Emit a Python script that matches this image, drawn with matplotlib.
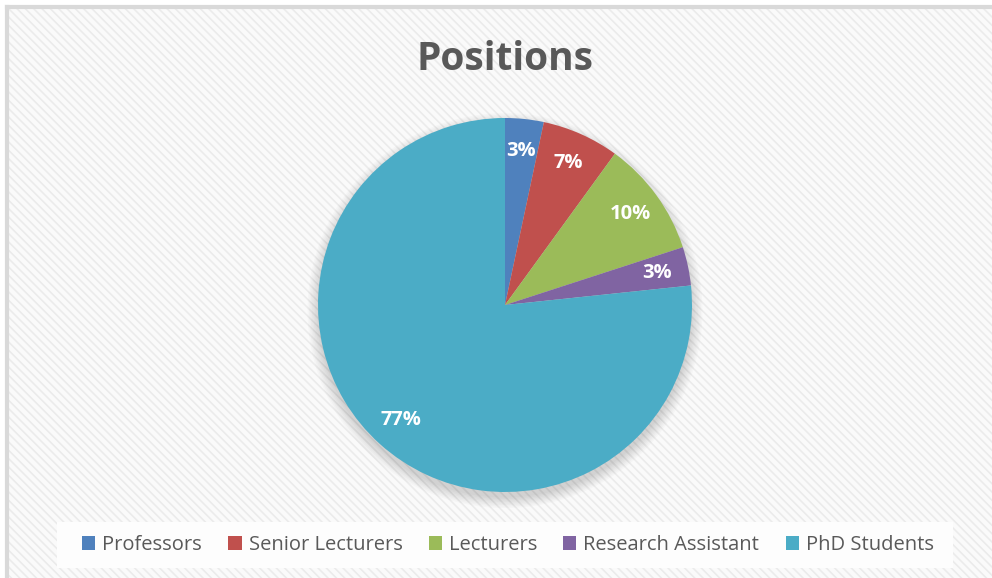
import matplotlib
matplotlib.use("Agg")
import matplotlib.pyplot as plt
from matplotlib.patches import Rectangle, Circle

# -- Data -------------------------------------------------------------------
positions = ["Professors", "Senior Lecturers", "Lecturers", "Research Assistant", "PhD Students"]
counts = [1, 2, 3, 1, 23]
colors = ["#4F81BD", "#C0504D", "#9BBB59", "#8064A2", "#4BACC6"]

plt.rcParams["font.family"] = ["Open Sans", "DejaVu Sans"]
plt.rcParams["hatch.color"] = "#EBEBEB"
plt.rcParams["hatch.linewidth"] = 1.2

W, H = 992, 578
fig = plt.figure(figsize=(W / 100, H / 100), dpi=100)
fig.patch.set_facecolor("white")

# hatched chart area with a grey frame on the top/left edges
fig.patches.append(Rectangle((7 / W, 0), 1, 1 - 7 / H, transform=fig.transFigure,
                             facecolor="#FAFAFA", edgecolor="#EBEBEB", hatch="\\\\\\\\",
                             linewidth=0, zorder=-3))
fig.add_artist(plt.Line2D([7 / W, 7 / W], [0, 1 - 7 / H], transform=fig.transFigure,
                          color="#D9D9D9", lw=3, zorder=-2))
fig.add_artist(plt.Line2D([7 / W, 1], [1 - 7 / H, 1 - 7 / H], transform=fig.transFigure,
                          color="#D9D9D9", lw=3, zorder=-2))

fig.text(505 / W, 1 - 60 / H, "Positions", ha="center", va="center",
         fontsize=28, fontweight="bold", color="#595959")

# pie axes: centre (505, 305), radius ~187 px
r = 187
ax = fig.add_axes([(505 - r) / W, 1 - (305 + r) / H, 2 * r / W, 2 * r / H])
ax.patch.set_visible(False)

# soft shadow below the pie (stacked faint discs)
for i in range(8):
    ax.add_patch(Circle((0, -0.03), 1.0 + 0.008 * i, color="#000000",
                        alpha=0.018, lw=0, zorder=0, clip_on=False))

wedges, texts, autotexts = ax.pie(
    counts, colors=colors, startangle=90, counterclock=False, radius=1.0,
    autopct=lambda p: f"{p:.0f}%", pctdistance=0.83,
    wedgeprops=dict(linewidth=0),
    textprops=dict(color="white", fontsize=14.5, fontweight="bold"),
)
for w in wedges:
    w.set_zorder(2)
for t in autotexts:
    t.set_zorder(3)
ax.set_xlim(-1, 1)
ax.set_ylim(-1, 1)
ax.set_aspect("equal")
ax.axis("off")

# legend in a white strip at the bottom
fig.patches.append(Rectangle((57 / W, 1 - 568 / H), (953 - 57) / W, 46 / H,
                             transform=fig.transFigure, facecolor="#FDFDFD",
                             edgecolor="none", zorder=-1))
handles = [Rectangle((0, 0), 1, 1, facecolor=c, edgecolor="none") for c in colors]
leg = fig.legend(handles, positions, loc="center", bbox_to_anchor=(508 / W, 1 - 545 / H),
                 ncol=5, frameon=False, fontsize=14.5, handlelength=0.65, handleheight=0.65,
                 handletextpad=0.35, columnspacing=1.3, labelcolor="#595959")

fig.savefig("out.png", dpi=100)
